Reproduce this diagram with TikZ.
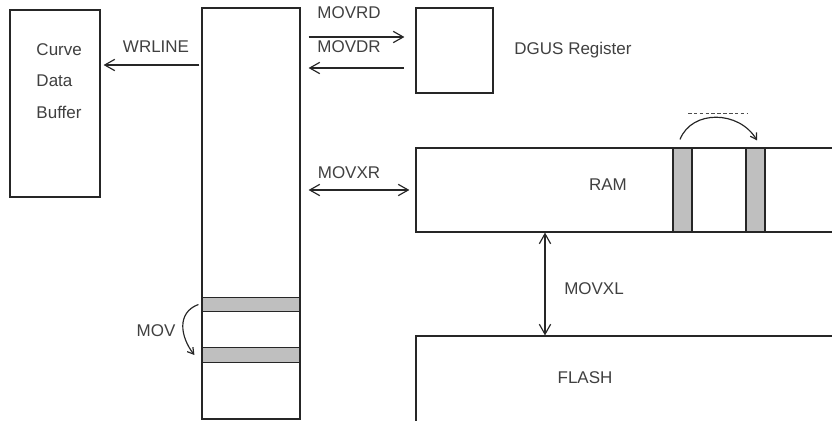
\documentclass[tikz,border=0pt]{standalone}
\usepackage{fontspec}
\setmainfont{Liberation Sans}
\usetikzlibrary{arrows.meta}

\begin{document}
\begin{tikzpicture}
  [x=0.03cm,y=-0.03cm,line width=1pt,draw=black!85,
   every node/.style={font=\fontsize{14.5}{17}\selectfont,text=black!75},
   blk/.style={draw=black!85,fill=white,inner sep=0pt},
   band/.style={draw=black!85,fill=black!25,inner sep=0pt},
   >={Straight Barb[length=0.3cm,width=0.34cm]},
   bendarr/.style={->,>={Straight Barb[length=0.18cm,width=0.22cm]}}]
  \useasboundingbox (0,0) rectangle (832,421);
  \clip (0,0) rectangle (832,421);

  \node[blk,minimum width=2.7cm,minimum height=5.61cm] (buf) at (55,103.5) {};
  \node[blk,minimum width=2.94cm,minimum height=12.33cm] (col) at (251,213.5) {};
  \node[blk,minimum width=2.31cm,minimum height=2.55cm] (dgus) at (454.5,50.5) {};
  \node[blk,minimum width=12.72cm,minimum height=2.52cm] (ram) at (628,190) {};
  \node[blk,minimum width=12.72cm,minimum height=2.76cm] (flash) at (628,382) {};

  \foreach \n/\y in {b1/304.5,b2/355}
    \node[band,minimum width=2.94cm,minimum height=0.44cm] (\n) at (251,\y) {};
  \foreach \n/\x in {r1/682.5,r2/755.5}
    \node[band,minimum width=0.57cm,minimum height=2.52cm] (\n) at (\x,190) {};

  \node[anchor=west] (curve) at (32,50) {Curve};
  \node[anchor=west] (data) at (32,81) {Data};
  \node[anchor=west] (buffer) at (32,112) {Buffer};
  \node (wrline) at (156,47) {WRLINE};
  \node (movrd) at (349,13) {MOVRD};
  \node (movdr) at (349,47) {MOVDR};
  \node (movxr) at (349,173) {MOVXR};
  \node (dgustxt) at (573,50) {DGUS Register};
  \node (ramtxt) at (608,185) {RAM};
  \node (movxl) at (594,289) {MOVXL};
  \node (flashtxt) at (585,378) {FLASH};
  \node (mov) at (156,331) {MOV};

  \draw[->,shorten <=0.06cm,shorten >=0.09cm] (col.west |- 0,65) -- (buf.east |- 0,65);
  \draw[->,shorten <=0.24cm,shorten >=0.33cm] (col.east |- 0,37) -- (dgus.west |- 0,37);
  \draw[<-,shorten <=0.24cm,shorten >=0.33cm] (col.east |- 0,68) -- (dgus.west |- 0,68);
  \draw[<->,shorten <=0.24cm,shorten >=0.18cm] (col.east |- ram) -- (ram.west);
  \draw[<->] (ram.south -| 545,0) -- (flash.north -| 545,0);

  \draw[bendarr] ([xshift=-0.09cm]b1.west) .. controls +(-22,8) and +(-14,-18) .. ([xshift=-0.21cm]b2.west);
  \draw[bendarr] ([xshift=-0.075cm,yshift=0.24cm]r1.north) .. controls +(12,-30) and +(-18,-30) .. ([xshift=0.045cm,yshift=0.21cm]r2.north);
  \draw[densely dashed,line width=0.8pt,black!70] (688,113) -- (748,113);
\end{tikzpicture}
\end{document}
